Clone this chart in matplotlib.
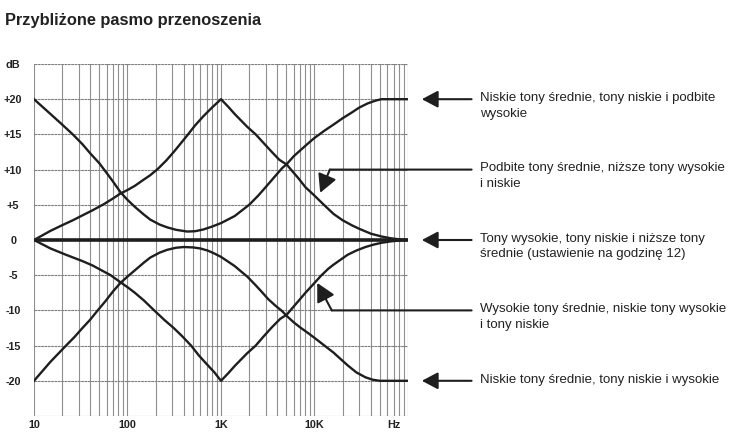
import numpy as np
import matplotlib
matplotlib.use("Agg")
import matplotlib.pyplot as plt

plt.rcParams['font.family'] = ['Liberation Sans', 'DejaVu Sans']

# ---- data (frequency in Hz, level in dB) ----
freq_a = [10, 15, 20, 26, 33, 40, 50, 60, 70, 84, 100, 120, 150, 175, 220, 265, 330,
          435, 530, 650, 800, 1000, 1400, 2000, 2500, 3000, 3700, 4500, 5060, 6000,
          7000, 8500, 10000, 13000, 16000, 20000, 25000, 30000, 37000, 45000, 52000,
          100000]
db_a = [20, 17.9, 16.4, 15, 13.6, 12.3, 10.9, 9.5, 8.3, 6.8, 5.7, 4.7, 3.6, 2.9,
        2.2, 1.8, 1.45, 1.2, 1.25, 1.5, 1.9, 2.4, 3.4, 5, 6.3, 7.5, 8.9, 10.2, 10.8,
        11.9, 12.7, 13.7, 14.5, 15.6, 16.4, 17.3, 18.1, 18.8, 19.4, 19.8, 20, 20]

freq_b = [10, 15, 20, 26, 33, 42, 56, 70, 84, 100, 120, 150, 175, 211, 260, 312, 370,
          444, 530, 650, 800, 1000, 1200, 1400, 1900, 2350, 2800, 3500, 4200, 5060,
          5600, 6700, 8000, 10000, 12600, 16000, 20000, 25000, 30000, 40000, 52000,
          65000, 80000, 100000]
db_b = [0, 1.3, 2.1, 2.8, 3.5, 4.2, 5.1, 5.9, 6.6, 7.1, 7.7, 8.6, 9.2, 10.1, 11.3,
        12.5, 13.7, 15, 16.3, 17.6, 18.8, 20, 18.9, 17.9, 16.1, 15, 13.9, 12.5, 11.4,
        10.7, 10, 8.8, 7.5, 6.3, 5, 3.7, 2.8, 2.1, 1.6, 0.9, 0.5, 0.25, 0.1, 0]

freq_c = [10, 15, 22, 27, 33, 40, 48, 58, 70, 84, 104, 120, 150, 175, 220, 265, 330,
          400, 500, 600, 720, 844, 1000, 1200, 1400, 1650, 1910, 2300, 2700, 3200,
          3800, 4500, 5060, 6000, 7000, 8500, 10000, 12500, 16000, 19000, 22600,
          28000, 35000, 42000, 50000, 100000]
db_c = [-20, -17.3, -15, -13.8, -12.5, -11.3, -10, -8.7, -7.3, -6.1, -5, -4.3, -3.2,
        -2.5, -1.8, -1.4, -1.1, -1.0, -1.05, -1.2, -1.5, -1.9, -2.4, -3.1, -3.7,
        -4.5, -5.2, -6.3, -7.3, -8.4, -9.3, -10.1, -10.8, -11.7, -12.4, -13.2, -13.9,
        -14.9, -16.0, -16.9, -17.8, -18.8, -19.5, -19.85, -20, -20]

freq_d = [10, 15, 22, 33, 42, 51, 66, 84, 100, 120, 150, 193, 250, 312, 380, 479, 580,
          700, 850, 1000, 1200, 1400, 1900, 2350, 2900, 3500, 4300, 5060, 5600, 6700,
          8000, 10000, 11700, 14000, 16000, 19000, 22600, 28000, 35000, 43000, 52000,
          65000, 80000, 100000]
db_d = [0, -1.2, -2.1, -3.0, -3.6, -4.2, -5, -6, -6.7, -7.5, -8.6, -10, -11.4, -12.5,
        -13.6, -15, -16.4, -17.6, -18.8, -20, -18.9, -17.9, -16.1, -15, -13.6, -12.4,
        -11.2, -10.6, -9.9, -8.7, -7.5, -6.1, -5.1, -4.1, -3.5, -2.8, -2.1, -1.5,
        -1.0, -0.65, -0.4, -0.2, -0.08, 0]

freq_flat = [10, 100000]
db_flat = [0, 0]

x_tick_pos = [10, 100, 1000, 10000, 70000]
x_tick_labels = ['10', '100', '1K', '10K', 'Hz']
y_tick_pos = [-25, -20, -15, -10, -5, 0, 5, 10, 15, 20, 25]
y_tick_labels = ['', '-20', '-15', '-10', '-5', '0', '+5', '+10', '+15', '+20', 'dB']

labels = [
    "Niskie tony średnie, tony niskie i podbite\nwysokie",
    "Podbite tony średnie, niższe tony wysokie\ni niskie",
    "Tony wysokie, tony niskie i niższe tony\nśrednie (ustawienie na godzinę 12)",
    "Wysokie tony średnie, niskie tony wysokie\ni tony niskie",
    "Niskie tony średnie, tony niskie i wysokie",
]
label_db = [20, 10, 0, -10, -20]

# ---- figure ----
fig = plt.figure(figsize=(7.45, 4.40), dpi=100)
ax = fig.add_axes([34/745, 1-416/440, 374/745, 352/440])

ax.set_xscale('log')
ax.set_xlim(10, 100000)
ax.set_ylim(-25, 25)

minor = [m * 10**k for k in range(1, 5) for m in range(1, 10)] + [100000]
ax.set_xticks(minor, minor=True)
ax.set_xticklabels([], minor=True)
ax.set_xticks(x_tick_pos)
ax.set_xticklabels(x_tick_labels)
ax.set_yticks(y_tick_pos)
ax.set_yticklabels(y_tick_labels)

gc = '#8f8f8f'
ax.grid(True, which='both', axis='x', color=gc, lw=0.8)
ax.grid(True, which='major', axis='y', color='#7f7f7f', lw=0.8, ls=(0, (2.5, 0.5)))
ax.tick_params(which='both', length=0)
ax.tick_params(axis='x', pad=3.0, labelsize=7.8, labelcolor='#222222')
ax.tick_params(axis='y', pad=15, labelsize=7.8, labelcolor='#222222')
for t in ax.get_xticklabels() + ax.get_yticklabels():
    t.set_fontweight('bold')
for t in ax.get_yticklabels():
    t.set_horizontalalignment('center')
for s in ax.spines.values():
    s.set_visible(False)

lc = '#1e1e1e'
for f, d in [(freq_a, db_a), (freq_b, db_b), (freq_c, db_c), (freq_d, db_d)]:
    ax.plot(f, d, color=lc, lw=1.7, solid_joinstyle='round', zorder=3)
ax.plot(freq_flat, db_flat, color=lc, lw=2.6, zorder=3)

# ---- annotations ----
btrans = ax.get_yaxis_transform()
head = dict(arrowstyle='-|>,head_length=0.85,head_width=0.45', mutation_scale=11.5,
            color=lc, lw=1.5, shrinkA=0, shrinkB=0)
head_big = dict(arrowstyle='-|>,head_length=0.85,head_width=0.45', mutation_scale=13,
                color=lc, lw=1.5, shrinkA=0, shrinkB=0)
line = dict(arrowstyle='-', color=lc, lw=1.5, shrinkA=0, shrinkB=0)

for d in [20, 0, -20]:
    ax.annotate('', xy=(1.037, d), xycoords=btrans, xytext=(1.17, d),
                textcoords=btrans, arrowprops=head, annotation_clip=False)

# bent arrows
for d, corner_f, tip_f, tip_db in [(10, 14600, 11500, 6.7), (-10, 15300, 10700, -6.1)]:
    ax.annotate('', xy=(corner_f, d), xycoords='data', xytext=(1.17, d),
                textcoords=btrans, arrowprops=line, annotation_clip=False)
    ax.annotate('', xy=(tip_f, tip_db), xycoords='data', xytext=(corner_f, d),
                textcoords='data', arrowprops=head_big, annotation_clip=False, zorder=4)

for txt, d in zip(labels, label_db):
    ax.annotate(txt, xy=(1.1925, d), xycoords=btrans, xytext=(0, 5.2),
                textcoords='offset points', ha='left', va='top', fontsize=9.5,
                linespacing=1.4, color='#222222', annotation_clip=False)

fig.text(5/745, 1-21/440, 'Przybliżone pasmo przenoszenia', fontsize=11.8,
         fontweight='bold', color='#222222', ha='left', va='center')

fig.savefig('out.png', dpi=100)
